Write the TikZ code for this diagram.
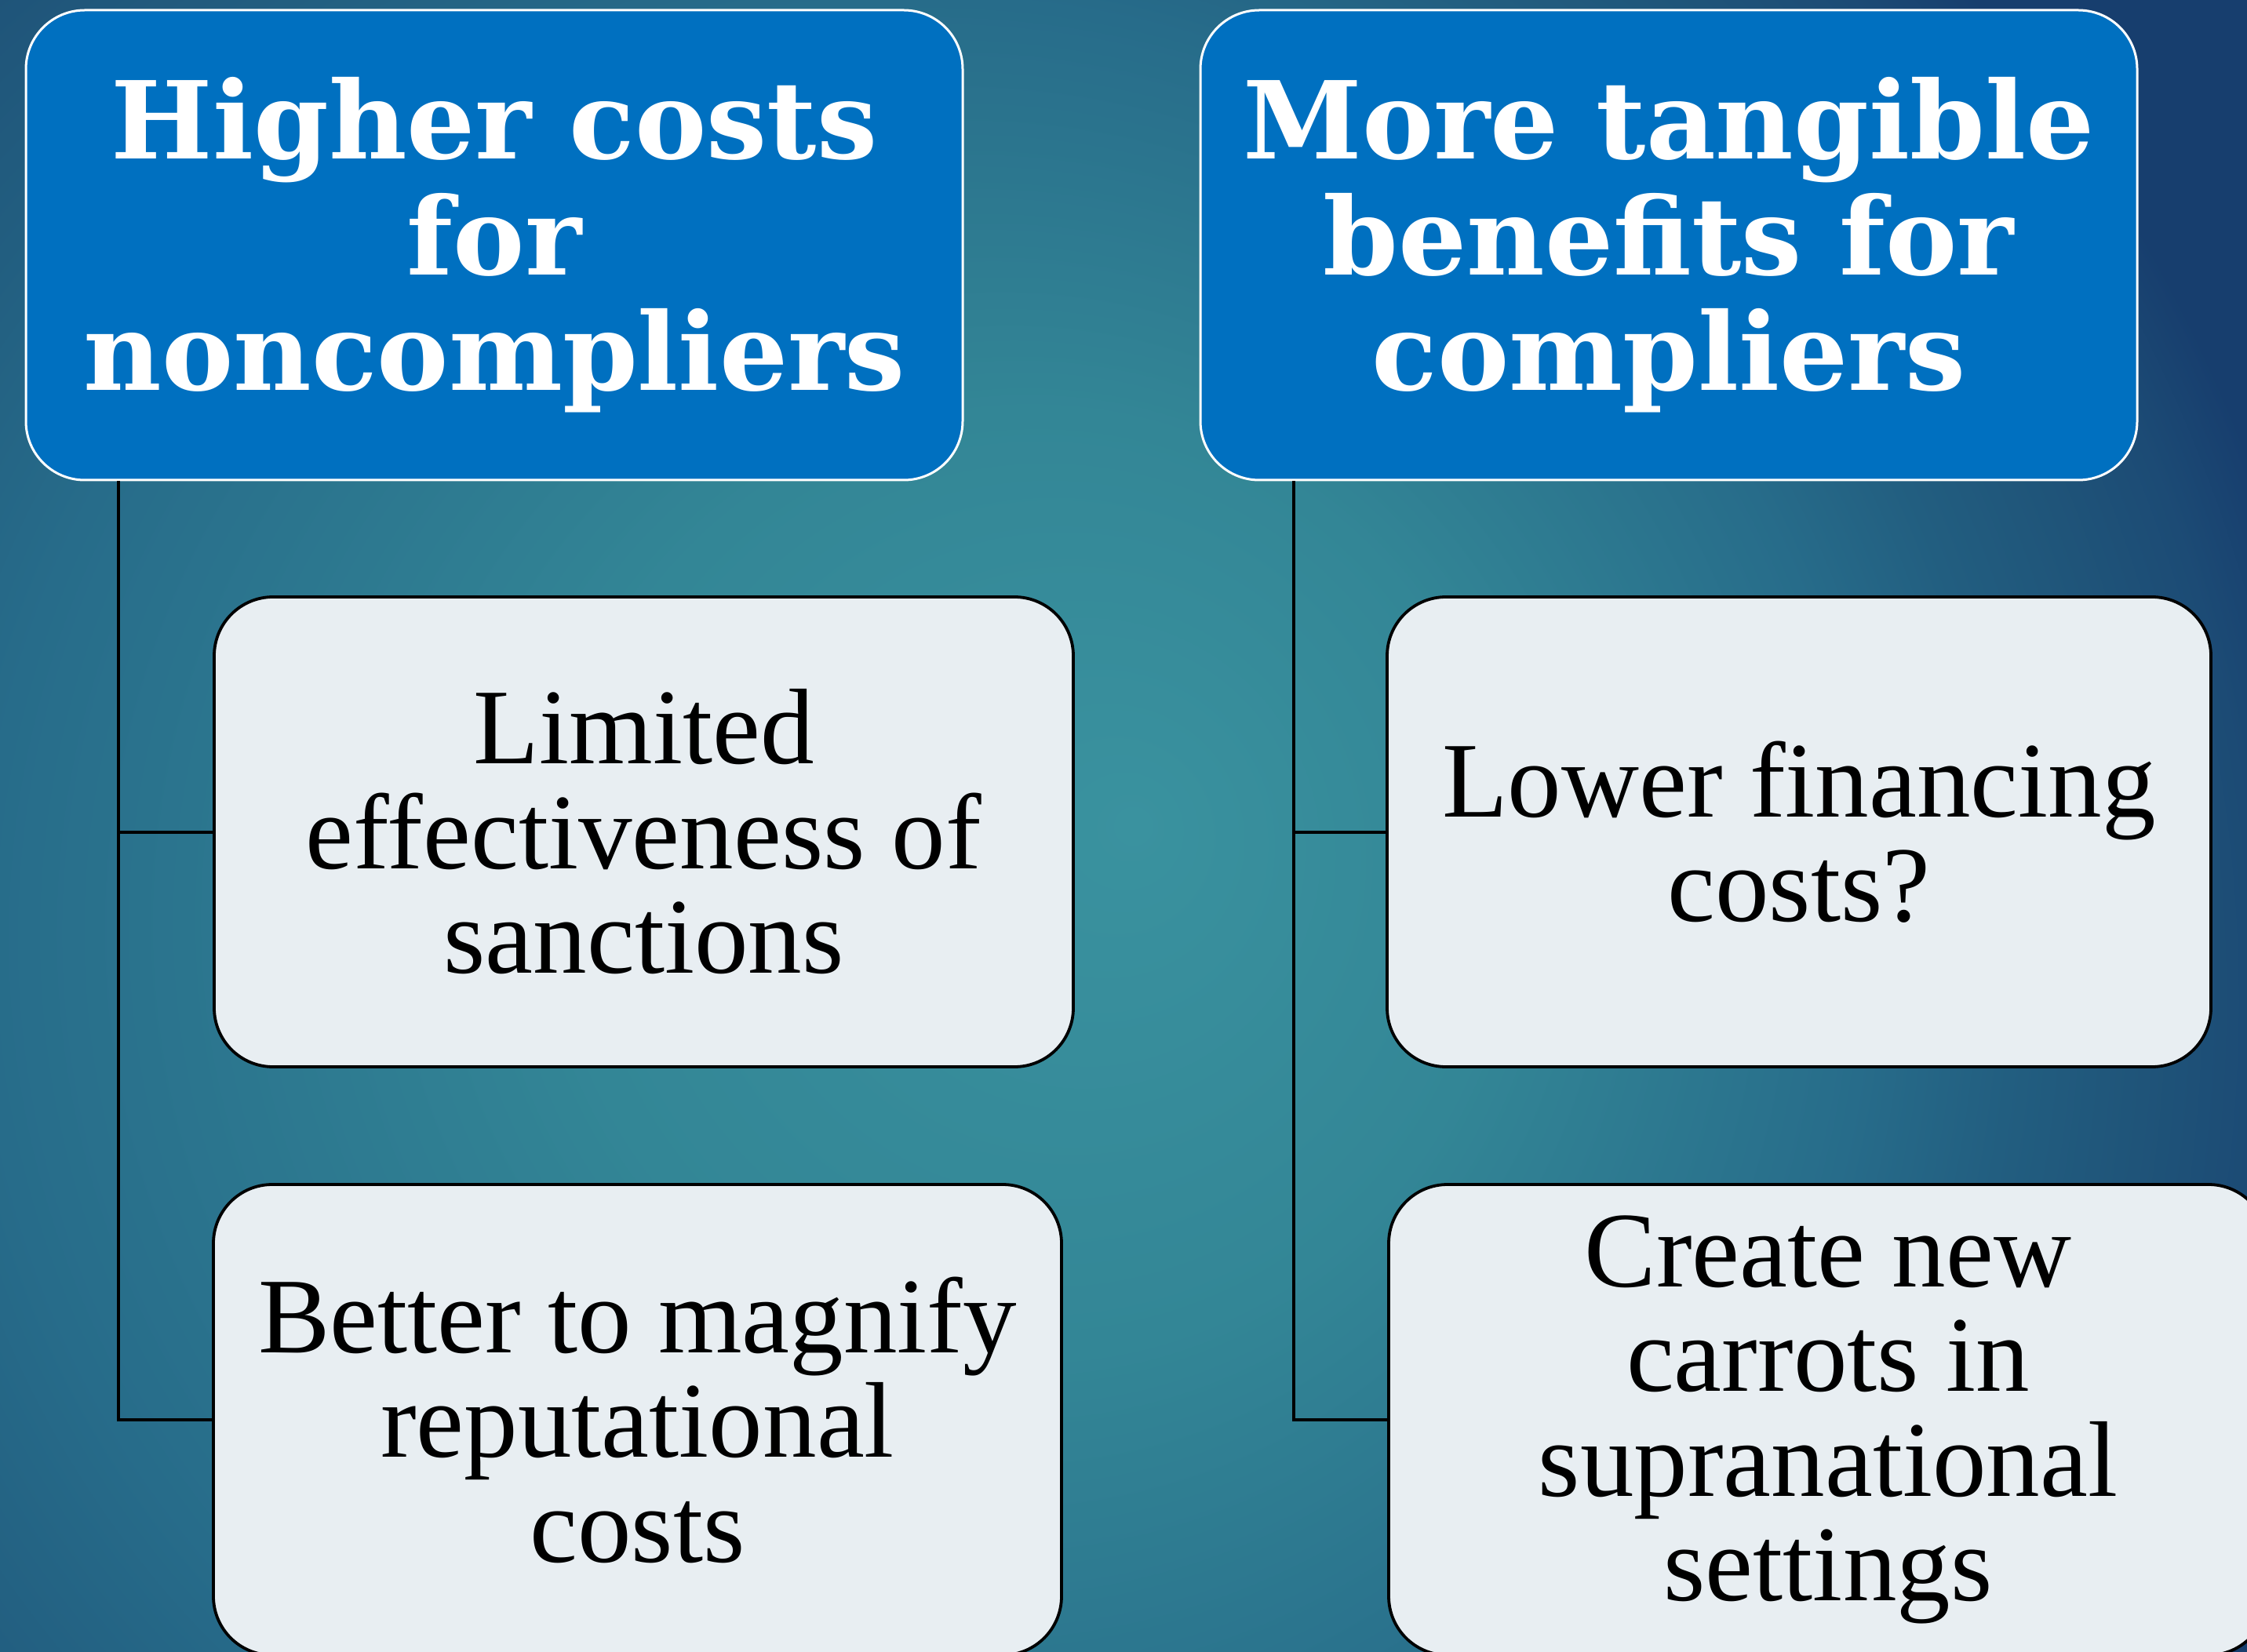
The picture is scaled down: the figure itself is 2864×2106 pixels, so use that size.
\documentclass[tikz,border=0pt]{standalone}
\usepackage{fontspec}
\setmainfont{Liberation Serif}
\newfontfamily\headfont{DejaVu Serif}
\usetikzlibrary{calc}
\definecolor{headblue}{HTML}{0070C0}
\definecolor{boxfill}{HTML}{E8EEF2}
\definecolor{bgA}{HTML}{3A929F}
\definecolor{bgB}{HTML}{338696}
\definecolor{bgC}{HTML}{276C8A}
\definecolor{bgD}{HTML}{225E80}
\definecolor{bgE}{HTML}{1F5479}
\definecolor{bgF}{HTML}{1C4B75}
\definecolor{bgG}{HTML}{173E6E}
\pgfdeclareradialshading{bgrad}{\pgfpoint{11.25bp}{6.25bp}}{color(0bp)=(bgA); color(7.5bp)=(bgB); color(15bp)=(bgC); color(18bp)=(bgD); color(20.75bp)=(bgE); color(23bp)=(bgF); color(25bp)=(bgG); color(50bp)=(bgG)}
\tikzset{
  headbox/.style={draw=white, line width=0.3mm, fill=headblue, rounded corners=7.5mm,
    inner sep=0pt, minimum width=119.4mm, minimum height=59.9mm, align=center,
    text=white, font=\headfont\bfseries\fontsize{39}{42}\selectfont},
  childbox/.style={draw=black, line width=0.38mm, fill=boxfill, rounded corners=7.5mm,
    inner sep=0pt, minimum height=59.9mm, align=center,
    text=black, font=\fontsize{39}{38}\selectfont},
  conn/.style={draw=black, line width=0.4mm}
}
\begin{document}
\begin{tikzpicture}[x=0.1mm, y=-0.1mm]
\useasboundingbox (0,0) rectangle (2864,2106);
\begin{scope}
  \clip (0,0) rectangle (2864,2106);
  \fill[bgG] (0,0) rectangle (2864,2106);
  \pgftransformshift{\pgfpointxy{550}{1550}}
  \pgftransformscale{22.68}
  \pgflowlevelsynccm
  \pgfuseshading{bgrad}
\end{scope}
% headers
\node[headbox] (h1) at (630,312.5) {Higher costs\\for\\noncompliers};
\node[headbox] (h2) at (2127,312.5) {More tangible\\benefits for\\compliers};
% children
\node[childbox, minimum width=109.5mm] (c1) at (820.5,1060.5) {Limited\\effectiveness of\\sanctions};
\node[childbox, minimum width=108.1mm, minimum height=60mm] (c2) at (812.5,1810) {Better to magnify\\reputational\\costs};
\node[childbox, minimum width=105mm] (c3) at (2293,1060.5) {Lower financing\\costs?};
\node[childbox, minimum width=112mm, minimum height=60mm] (c4) at (2330,1810) {Create new\\carrots in\\supranational\\settings};
% connectors
\draw[conn] ($(h1.south west)+(119,0)$) |- (c1.west);
\draw[conn] ($(h1.south west)+(119,0)$) |- (c2.west);
\draw[conn] ($(h2.south west)+(120,0)$) |- (c3.west);
\draw[conn] ($(h2.south west)+(120,0)$) |- (c4.west);
\end{tikzpicture}
\end{document}
